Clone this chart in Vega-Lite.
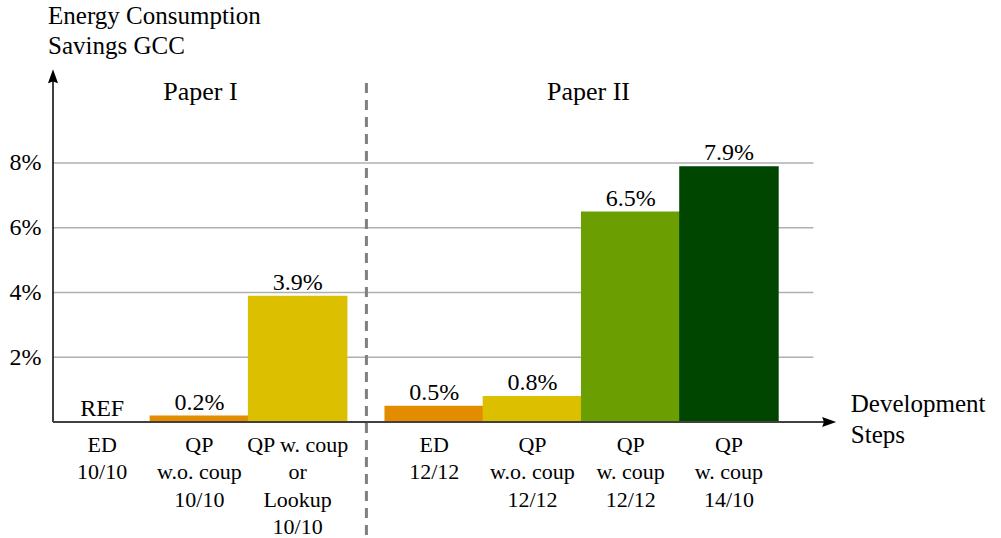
{
  "$schema": "https://vega.github.io/schema/vega-lite/v6.json",
  "autosize": {"type": "none"},
  "width": 796,
  "height": 352,
  "padding": {"left": 48, "top": 70, "right": 157, "bottom": 116},
  "background": "white",
  "config": {"view": {"stroke": null}},
  "datasets": {
    "bars": [
      {"step": "ED\n10/10", "pos": 0.5, "value": 0, "label": "REF"},
      {"step": "QP\nw.o. coup\n10/10", "pos": 1.49, "value": 0.2, "label": "0.2%"},
      {"step": "QP w. coup\nor\nLookup\n10/10", "pos": 2.49, "value": 3.9, "label": "3.9%"},
      {"step": "ED\n12/12", "pos": 3.88, "value": 0.5, "label": "0.5%"},
      {"step": "QP\nw.o. coup\n12/12", "pos": 4.88, "value": 0.8, "label": "0.8%"},
      {"step": "QP\nw. coup\n12/12", "pos": 5.88, "value": 6.5, "label": "6.5%"},
      {"step": "QP\nw. coup\n14/10", "pos": 6.88, "value": 7.9, "label": "7.9%"}
    ],
    "grid": [{"g": 2}, {"g": 4}, {"g": 6}, {"g": 8}],
    "papers": [
      {"name": "Paper I", "pos": 1.5},
      {"name": "Paper II", "pos": 5.45}
    ]
  },
  "layer": [
    {
      "data": {"name": "grid"},
      "mark": {"type": "rule", "color": "#b0b0b0", "strokeWidth": 1.5},
      "encoding": {
        "y": {"field": "g", "type": "quantitative", "scale": {"domain": [0, 10.87], "nice": false, "zero": false}, "axis": {"values": [2, 4, 6, 8], "labelExpr": "datum.value + '%'", "domain": false, "ticks": false, "grid": false, "labelFontSize": 24, "labelFont": "Liberation Serif", "labelColor": "black", "labelPadding": 7, "title": null}},
        "x": {"datum": 0, "type": "quantitative", "scale": {"domain": [0, 8], "nice": false, "zero": false}, "axis": null},
        "x2": {"datum": 7.74}
      }
    },
    {
      "data": {"values": [{}]},
      "mark": {"type": "rule", "color": "#808080", "strokeWidth": 3, "strokeDash": [10, 7]},
      "encoding": {
        "x": {"datum": 3.19, "type": "quantitative"},
        "y": {"datum": 10.47, "type": "quantitative"},
        "y2": {"datum": -3.6}
      }
    },
    {
      "data": {"name": "bars"},
      "mark": {"type": "bar", "size": 99.5},
      "encoding": {
        "x": {"field": "pos", "type": "quantitative"},
        "y": {"field": "value", "type": "quantitative"},
        "color": {"field": "label", "type": "nominal", "legend": null,
          "scale": {"domain": ["REF", "0.2%", "3.9%", "0.5%", "0.8%", "6.5%", "7.9%"],
                    "range": ["#ffffff", "#e38c00", "#dcc000", "#e38c00", "#dcc000", "#6b9e00", "#004500"]}}
      }
    },
    {
      "data": {"name": "bars"},
      "mark": {"type": "text", "font": "Liberation Serif", "fontSize": 24, "dy": -6, "baseline": "alphabetic", "align": "center", "color": "black"},
      "encoding": {
        "x": {"field": "pos", "type": "quantitative"},
        "y": {"field": "value", "type": "quantitative"},
        "text": {"field": "label"}
      }
    },
    {
      "data": {"name": "bars"},
      "mark": {"type": "text", "font": "Liberation Serif", "fontSize": 22, "dy": 30, "baseline": "alphabetic", "align": "center", "lineBreak": "\n", "lineHeight": 27.3, "color": "black"},
      "encoding": {
        "x": {"field": "pos", "type": "quantitative"},
        "y": {"datum": 0, "type": "quantitative"},
        "text": {"field": "step"}
      }
    },
    {
      "data": {"values": [{}]},
      "mark": {"type": "rule", "color": "black", "strokeWidth": 1.5},
      "encoding": {
        "x": {"datum": 0, "type": "quantitative"},
        "y": {"datum": 0, "type": "quantitative"},
        "y2": {"datum": 10.6}
      }
    },
    {
      "data": {"values": [{}]},
      "mark": {"type": "rule", "color": "#404040", "strokeWidth": 2},
      "encoding": {
        "x": {"datum": 0, "type": "quantitative"},
        "x2": {"datum": 7.85},
        "y": {"datum": 0, "type": "quantitative"}
      }
    },
    {
      "data": {"values": [{}]},
      "mark": {"type": "point", "shape": "M0,-1 L0.72,1 L0,0.75 L-0.72,1 Z", "size": 196, "filled": true, "color": "black", "opacity": 1},
      "encoding": {
        "x": {"datum": 0, "type": "quantitative"},
        "y": {"datum": 10.68, "type": "quantitative"}
      }
    },
    {
      "data": {"values": [{}]},
      "mark": {"type": "point", "shape": "M0,-1 L0.72,1 L0,0.75 L-0.72,1 Z", "size": 196, "filled": true, "color": "black", "opacity": 1, "angle": 90},
      "encoding": {
        "x": {"datum": 7.9, "type": "quantitative"},
        "y": {"datum": 0, "type": "quantitative"}
      }
    },
    {
      "data": {"name": "papers"},
      "mark": {"type": "text", "font": "Liberation Serif", "fontSize": 26, "baseline": "alphabetic", "align": "center", "color": "black"},
      "encoding": {
        "x": {"field": "pos", "type": "quantitative"},
        "y": {"datum": 9.94, "type": "quantitative"},
        "text": {"field": "name"}
      }
    },
    {
      "data": {"values": [{}]},
      "mark": {"type": "text", "font": "Liberation Serif", "fontSize": 25, "baseline": "alphabetic", "align": "left", "lineBreak": "\n", "lineHeight": 30.5, "color": "black", "text": "Energy Consumption\nSavings GCC"},
      "encoding": {
        "x": {"datum": -0.05, "type": "quantitative"},
        "y": {"datum": 12.3, "type": "quantitative"}
      }
    },
    {
      "data": {"values": [{}]},
      "mark": {"type": "text", "font": "Liberation Serif", "fontSize": 25, "baseline": "alphabetic", "align": "left", "lineBreak": "\n", "lineHeight": 31, "color": "black", "text": "Development\nSteps"},
      "encoding": {
        "x": {"datum": 8.12, "type": "quantitative"},
        "y": {"datum": 0.31, "type": "quantitative"}
      }
    }
  ]
}
